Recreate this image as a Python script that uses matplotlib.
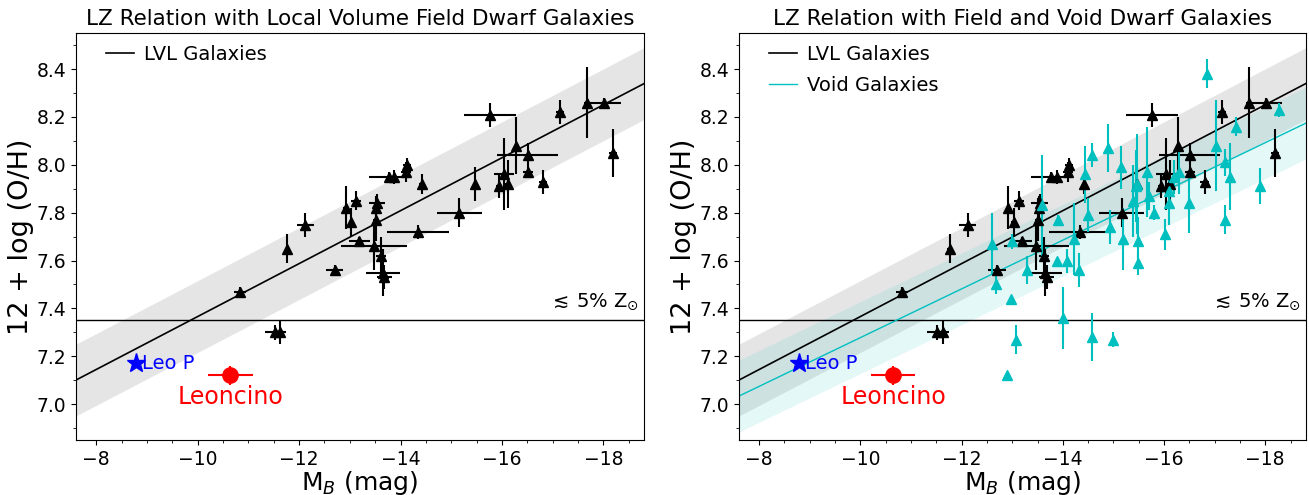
import numpy as np
import matplotlib
matplotlib.use("Agg")
import matplotlib.pyplot as plt
from matplotlib.ticker import MultipleLocator

# LVL galaxies
lvl_mb = [-10.83, -11.52, -11.63, -11.77, -12.12, -12.70, -12.92, -13.03, -13.13, -13.19,
          -13.48, -13.51, -13.52, -13.54, -13.62, -13.65, -13.68, -13.77, -13.88, -14.10,
          -14.12, -14.42, -14.34, -15.16, -15.47, -15.76, -15.94, -16.04, -16.11, -16.28,
          -16.51, -16.51, -16.80, -17.14, -17.67, -18.01, -18.19]
lvl_oh = [7.47, 7.30, 7.30, 7.65, 7.75, 7.56, 7.82, 7.76, 7.85, 7.68,
          7.66, 7.77, 7.82, 7.84, 7.62, 7.55, 7.53, 7.95, 7.95, 7.97,
          8.00, 7.92, 7.72, 7.80, 7.92, 8.21, 7.91, 7.96, 7.92, 8.08,
          8.04, 7.97, 7.93, 8.22, 8.26, 8.26, 8.05]
lvl_mb_err = [0.12, 0.20, 0.12, 0.05, 0.17, 0.17, 0.05, 0.05, 0.10, 0.20,
              0.65, 0.05, 0.05, 0.16, 0.10, 0.33, 0.15, 0.40, 0.05, 0.10,
              0.08, 0.05, 0.61, 0.44, 0.05, 0.51, 0.05, 0.19, 0.05, 0.05,
              0.60, 0.10, 0.08, 0.08, 0.05, 0.33, 0.08]
lvl_oh_err = [0.02, 0.03, 0.05, 0.06, 0.05, 0.02, 0.09, 0.06, 0.04, 0.02,
              0.10, 0.09, 0.05, 0.04, 0.08, 0.10, 0.05, 0.02, 0.03, 0.04,
              0.03, 0.04, 0.03, 0.06, 0.07, 0.05, 0.05, 0.15, 0.10, 0.12,
              0.05, 0.02, 0.05, 0.05, 0.15, 0.02, 0.10]

# Void galaxies
void_mb = [-12.60, -12.67, -12.90, -12.97, -12.99, -13.08, -13.30, -13.59, -13.89, -13.91,
           -14.00, -14.08, -14.23, -14.31, -14.44, -14.50, -14.58, -14.58, -14.90, -14.93,
           -14.99, -15.14, -15.18, -15.39, -15.44, -15.46, -15.49, -15.48, -15.67, -15.70,
           -15.80, -16.02, -16.10, -16.10, -16.20, -16.30, -16.50, -16.85, -17.03, -17.20,
           -17.20, -17.31, -17.42, -17.90, -18.28]
void_oh = [7.67, 7.50, 7.12, 7.44, 7.68, 7.27, 7.56, 7.83, 7.60, 7.77,
           7.36, 7.60, 7.69, 7.56, 7.96, 7.79, 8.04, 7.28, 8.07, 7.74,
           7.27, 7.99, 7.69, 7.85, 7.91, 7.92, 7.68, 7.59, 7.97, 7.87,
           7.80, 7.71, 7.89, 7.84, 7.95, 7.97, 7.84, 8.38, 8.08, 8.01,
           7.77, 7.95, 8.16, 7.91, 8.23]
void_oh_err = [0.13, 0.04, 0.0, 0.0, 0.03, 0.06, 0.06, 0.21, 0.0, 0.02,
               0.13, 0.05, 0.15, 0.07, 0.12, 0.07, 0.05, 0.10, 0.10, 0.07,
               0.03, 0.09, 0.13, 0.15, 0.15, 0.21, 0.10, 0.05, 0.19, 0.06,
               0.03, 0.065, 0.05, 0.09, 0.07, 0.09, 0.125, 0.06, 0.19, 0.055,
               0.06, 0.14, 0.04, 0.075, 0.03]

# Fits (intercept, slope, scatter)
lvl_fit = [6.26, -0.1106, 0.15]
void_fit = [6.26, -0.1018, 0.15]

leop = [-8.78, 7.17]
leoncino = [-10.645, 7.12, 0.44, 0.04]

xlim = (-7.6, -18.8)
ylim = (6.85, 8.55)

fig = plt.figure(figsize=(13.09, 4.95), dpi=100)
ax1 = fig.add_axes([0.058, 0.111, 0.434, 0.822])
ax2 = fig.add_axes([0.5645, 0.111, 0.433, 0.822])

xx = np.linspace(xlim[0], xlim[1], 200)

def common(ax, title):
    a, b, s = lvl_fit
    ax.fill_between(xx, a + b * xx - s, a + b * xx + s, color='gray', alpha=0.2, lw=0, zorder=1)
    ax.plot(xx, a + b * xx, color='k', lw=1.2, label='LVL Galaxies', zorder=2)
    ax.axhline(7.35, color='k', lw=1.0, zorder=2)
    ax.errorbar(lvl_mb, lvl_oh, xerr=lvl_mb_err, yerr=lvl_oh_err, fmt='^', color='k',
                ms=7.5, elinewidth=1.5, capsize=0, zorder=4)
    ax.plot(leop[0], leop[1], marker='*', color='b', ms=14, ls='none', zorder=5)
    ax.text(leop[0] - 0.13, leop[1], 'Leo P', color='b', fontsize=14, va='center', ha='left', zorder=5)
    ax.errorbar(leoncino[0], leoncino[1], xerr=leoncino[2], yerr=leoncino[3], fmt='o',
                color='r', ms=11, elinewidth=1.5, capsize=0, zorder=5)
    ax.text(leoncino[0], 7.03, 'Leoncino', color='r', fontsize=17, ha='center', va='center', zorder=5)
    ax.text(-18.7, 7.385, r'$\lesssim\,$5% Z$_{\odot}$', fontsize=14, ha='right', va='bottom')
    ax.set_xlim(*xlim)
    ax.set_ylim(*ylim)
    ax.set_yticks([7.0, 7.2, 7.4, 7.6, 7.8, 8.0, 8.2, 8.4])
    ax.set_xticks([-8, -10, -12, -14, -16, -18])
    ax.yaxis.set_minor_locator(MultipleLocator(0.1))
    ax.xaxis.set_minor_locator(MultipleLocator(0.5))
    ax.tick_params(labelsize=13.5)
    ax.set_xlabel(r'M$_B$ (mag)', fontsize=18, labelpad=0)
    ax.set_ylabel('12 + log (O/H)', fontsize=19.5, labelpad=2)
    ax.set_title(title, fontsize=15.5)

leg_kw = dict(loc='upper left', bbox_to_anchor=(0.04, 0.99), borderaxespad=0.0,
              frameon=False, fontsize=14, handlelength=1.4, handletextpad=0.55,
              labelspacing=0.6)

common(ax1, 'LZ Relation with Local Volume Field Dwarf Galaxies')
ax1.legend(**leg_kw)

common(ax2, 'LZ Relation with Field and Void Dwarf Galaxies')
a, b, s = void_fit
ax2.fill_between(xx, a + b * xx - s, a + b * xx + s, color='c', alpha=0.1, lw=0, zorder=1)
ax2.plot(xx, a + b * xx, color='c', lw=1.0, label='Void Galaxies', zorder=2)
ax2.errorbar(void_mb, void_oh, yerr=void_oh_err, fmt='^', color='c', ms=6.5,
             elinewidth=1.5, capsize=0, zorder=4)
ax2.legend(**leg_kw)

fig.savefig('out.png', dpi=100)
